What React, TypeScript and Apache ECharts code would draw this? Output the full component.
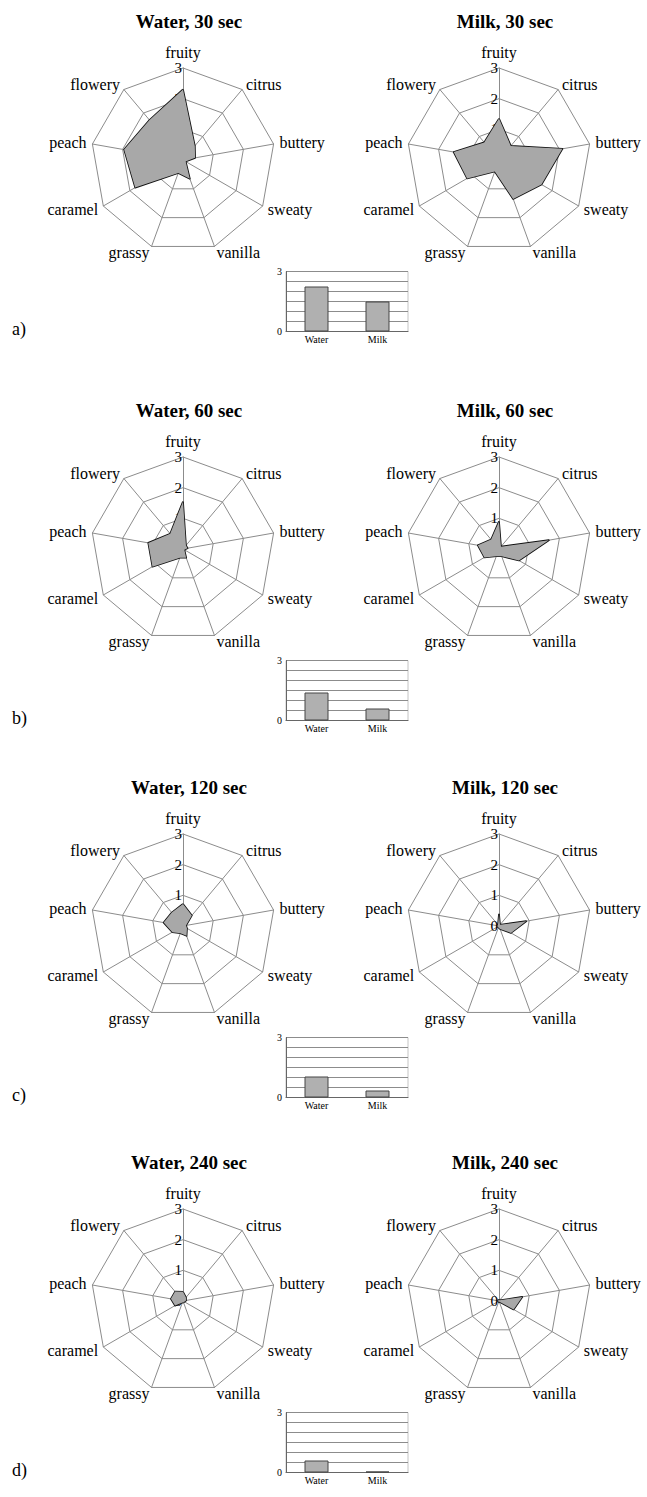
import React, { useEffect, useRef } from 'react';
import * as echarts from 'echarts';

const SERIF = '"Liberation Serif", "Times New Roman", serif';

// attributes in clockwise order starting at the top
const attributes = ['fruity', 'citrus', 'buttery', 'sweaty', 'vanilla', 'grassy', 'caramel', 'peach', 'flowery'];

const water30 = [2.3, 0.6, 0.4, 0.1, 0.65, 0.45, 1.8, 1.95, 1.7];
const milk30 = [1.35, 0.6, 2.1, 1.6, 1.35, 0.4, 1.2, 1.5, 0.75];
const water60 = [1.55, 0.15, 0.15, 0.05, 0.3, 0.3, 1.15, 1.15, 0.65];
const milk60 = [0.9, 0.1, 1.65, 0.75, 0.25, 0.25, 0.55, 0.7, 0.4];
const water120 = [0.72, 0.45, 0.1, 0.15, 0.34, 0.25, 0.4, 0.64, 0.57];
const milk120 = [0.4, 0.05, 0.9, 0.45, 0.1, 0.05, 0.05, 0.05, 0.05];
const water240 = [0.3, 0.15, 0.1, 0.05, 0.05, 0.05, 0.3, 0.4, 0.4];
const milk240 = [0.05, 0.03, 0.77, 0.55, 0.03, 0.03, 0.03, 0.03, 0.03];

const barCategories = ['Water', 'Milk'];
const barWater = [2.25, 1.4, 1.05, 0.6];
const barMilk = [1.5, 0.6, 0.35, 0.05];

const times = ['30 sec', '60 sec', '120 sec', '240 sec'];
const panelLabels = ['a)', 'b)', 'c)', 'd)'];
const radarTicks = [0, 1, 2, 3];

const waterSets = [water30, water60, water120, water240];
const milkSets = [milk30, milk60, milk120, milk240];

// ECharts places indicators counter-clockwise; reorder so the picture reads clockwise
const ccwOrder = [0, 8, 7, 6, 5, 4, 3, 2, 1];

export default function App() {
  const ref = useRef<HTMLDivElement>(null);
  useEffect(() => {
    const chart = echarts.init(ref.current!, null, { renderer: 'svg' });
    const centersY = [160, 549, 926, 1301];
    const leftX = 183;
    const rightX = 499;

    const radars: any[] = [];
    const series: any[] = [];
    const titles: any[] = [];
    const grids: any[] = [];
    const xAxes: any[] = [];
    const yAxes: any[] = [];

    const makeRadar = (cx: number, cy: number) => ({
      center: [cx, cy],
      radius: 92,
      startAngle: 90,
      shape: 'polygon',
      splitNumber: 3,
      nameGap: 6,
      axisName: { color: '#000', fontFamily: SERIF, fontSize: 16 },
      splitArea: { show: false },
      splitLine: { lineStyle: { color: '#8c8c8c', width: 1 } },
      axisLine: { lineStyle: { color: '#8c8c8c', width: 1 } },
      axisTick: { show: false },
      axisLabel: { show: false, color: '#000', fontFamily: SERIF, fontSize: 15, margin: 1 },
      indicator: ccwOrder.map((i) => ({
        name: attributes[i],
        min: radarTicks[0],
        max: radarTicks[radarTicks.length - 1],
        ...(i === 0 ? { axisLabel: { show: true } } : {}),
      })),
    });

    for (let p = 0; p < 4; p++) {
      const cy = centersY[p];
      [['Water', leftX, waterSets[p]], ['Milk', rightX, milkSets[p]]].forEach(([name, cx, vals]: any) => {
        const idx = radars.length;
        radars.push(makeRadar(cx, cy));
        series.push({
          type: 'radar',
          radarIndex: idx,
          symbol: 'none',
          lineStyle: { color: '#111', width: 1.7 },
          areaStyle: { color: '#a8a8a8', opacity: 1 },
          data: [{ value: ccwOrder.map((i) => vals[i]), name }],
        });
        titles.push({
          text: `${name}, ${times[p]}`,
          left: cx + 6,
          top: cy - 148,
          textAlign: 'center',
          padding: 0,
          textStyle: { fontFamily: SERIF, fontWeight: 'bold', fontSize: 19, color: '#000' },
        });
      });
      titles.push({
        text: panelLabels[p],
        left: 12,
        top: cy + 160,
        padding: 0,
        textStyle: { fontFamily: SERIF, fontWeight: 'normal', fontSize: 18, color: '#000' },
      });
      grids.push({
        left: 286,
        top: cy + 111.5,
        width: 122,
        height: 60,
        show: true,
        borderColor: '#c4c4c4',
        borderWidth: 1,
      });
      xAxes.push({
        type: 'category',
        gridIndex: p,
        data: barCategories,
        axisLine: { lineStyle: { color: '#666' } },
        axisTick: { show: false },
        axisLabel: { fontFamily: SERIF, fontSize: 10, color: '#000', margin: 3 },
      });
      yAxes.push({
        type: 'value',
        gridIndex: p,
        min: 0,
        max: 3,
        interval: 0.5,
        axisLine: { show: true, lineStyle: { color: '#666' } },
        axisTick: { show: false },
        splitLine: { lineStyle: { color: '#8c8c8c' } },
        axisLabel: {
          fontFamily: SERIF,
          fontSize: 10,
          color: '#000',
          margin: 4,
          formatter: (v: number) => (v === 0 || v === 3 ? String(v) : ''),
        },
      });
      series.push({
        type: 'bar',
        xAxisIndex: p,
        yAxisIndex: p,
        barWidth: 24,
        itemStyle: { color: '#b0b0b0', borderColor: '#444', borderWidth: 1 },
        data: [barWater[p], barMilk[p]],
      });
    }

    chart.setOption({
      animation: false,
      backgroundColor: '#fff',
      title: titles,
      radar: radars,
      grid: grids,
      xAxis: xAxes,
      yAxis: yAxes,
      series,
    });
    return () => chart.dispose();
  }, []);
  return (
    <div
      ref={ref}
      style={{ position: 'absolute', left: 0, top: 0, width: 647, height: 1497, background: '#fff' }}
    />
  );
}
